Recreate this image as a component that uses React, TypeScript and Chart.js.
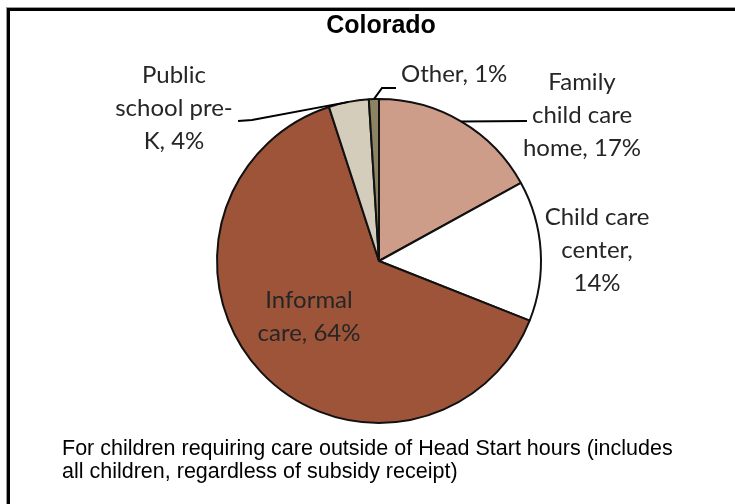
import React, { useEffect, useRef } from "react";
import { Chart, registerables } from "chart.js";

Chart.register(...registerables);

const categories = [
  "Family child care home",
  "Child care center",
  "Informal care",
  "Public school pre-K",
  "Other",
];
const shares = [17, 14, 64, 4, 1];
const sliceColors = ["#CD9D89", "#FFFFFF", "#9D5439", "#D4CDBC", "#8C8364"];
const labelLines = [
  ["Family", "child care", "home, 17%"],
  ["Child care", "center,", "14%"],
  ["Informal", "care, 64%"],
  ["Public", "school pre-", "K, 4%"],
  ["Other, 1%"],
];
const title = "Colorado";
const footnote = [
  "For children requiring care outside of Head Start hours (includes",
  "all children, regardless of subsidy receipt)",
];

// layout: label anchors (center x, first line y, align) and leader paths
const labelPos: { x: number; y: number; align: CanvasTextAlign }[] = [
  { x: 582, y: 82, align: "center" },
  { x: 597, y: 217, align: "center" },
  { x: 309, y: 300, align: "center" },
  { x: 174, y: 75, align: "center" },
  { x: 401, y: 74, align: "left" },
];
const leaders: ([number, number][] | null)[] = [
  [[527, 121]],
  null,
  null,
  [[252, 120], [238, 121]],
  [[382, 88], [396, 88]],
];

const overlay = {
  id: "overlay",
  afterDraw(chart: any) {
    const ctx = chart.ctx as CanvasRenderingContext2D;
    const meta = chart.getDatasetMeta(0);
    ctx.save();
    // frame
    ctx.fillStyle = "#9a9a9a";
    ctx.fillRect(7, 7, 728, 1);
    ctx.fillRect(6, 7, 1, 497);
    ctx.fillStyle = "#000";
    ctx.fillRect(7, 8, 728, 3);
    ctx.fillRect(7, 8, 3, 496);
    // title
    ctx.fillStyle = "#000";
    ctx.font = "bold 25px Arial, 'Liberation Sans', sans-serif";
    ctx.textAlign = "center";
    ctx.textBaseline = "middle";
    ctx.fillText(title, 381, 26);
    // leaders
    ctx.strokeStyle = "#000";
    ctx.lineWidth = 2;
    meta.data.forEach((arc: any, i: number) => {
      const path = leaders[i];
      if (!path) return;
      const mid = (arc.startAngle + arc.endAngle) / 2;
      const sx = arc.x + Math.cos(mid) * arc.outerRadius;
      const sy = arc.y + Math.sin(mid) * arc.outerRadius;
      ctx.beginPath();
      ctx.moveTo(sx, sy);
      path.forEach(([px, py]) => ctx.lineTo(px, py));
      ctx.stroke();
    });
    // labels
    ctx.fillStyle = "#262626";
    ctx.font = "24px Lato, 'Open Sans', sans-serif";
    ctx.textBaseline = "middle";
    labelLines.forEach((lines, i) => {
      const p = labelPos[i];
      ctx.textAlign = p.align;
      lines.forEach((t, j) => ctx.fillText(t, p.x, p.y + j * 33));
    });
    // footnote
    ctx.fillStyle = "#000";
    ctx.font = "21.5px Arial, 'Liberation Sans', sans-serif";
    ctx.textAlign = "left";
    footnote.forEach((t, j) => ctx.fillText(t, 62, 449 + j * 23));
    ctx.restore();
  },
};

export default function App() {
  const ref = useRef<HTMLCanvasElement>(null);
  useEffect(() => {
    if (!ref.current) return;
    const chart = new Chart(ref.current, {
      type: "pie",
      data: {
        labels: categories,
        datasets: [
          {
            data: shares,
            backgroundColor: sliceColors,
            borderColor: "#111111",
            borderWidth: 2,
            hoverOffset: 0,
          },
        ],
      },
      options: {
        responsive: false,
        animation: false,
        layout: { padding: { left: 216, right: 193, top: 98, bottom: 80 } },
        plugins: {
          legend: { display: false },
          title: { display: false },
          tooltip: { enabled: false },
        },
      },
      plugins: [overlay],
    });
    return () => chart.destroy();
  }, []);
  return (
    <div style={{ position: "fixed", left: 0, top: 0, width: 735, height: 504, background: "#fff" }}>
      <canvas ref={ref} width={735} height={504} />
    </div>
  );
}
